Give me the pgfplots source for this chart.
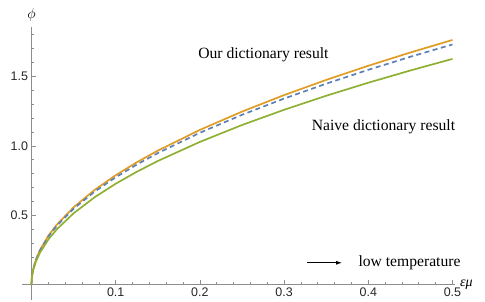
\documentclass[border=0pt]{standalone}
\usepackage{pgfplots}
\pgfplotsset{compat=1.18}
\usetikzlibrary{arrows.meta}
\usepackage{fontspec}
\setmainfont{Liberation Serif}
\newfontfamily\arial{Liberation Sans}
\definecolor{mblue}{rgb}{0.368417,0.506779,0.709798}
\definecolor{morange}{rgb}{0.880722,0.611041,0.142051}
\definecolor{mgreen}{rgb}{0.560181,0.691569,0.194885}
\definecolor{axgray}{RGB}{140,140,140}
\begin{document}
\begin{tikzpicture}
\begin{axis}[
  scale only axis, width=432.8bp, height=273bp,
  xmin=-0.011, xmax=0.503, ymin=-0.11, ymax=1.856,
  axis lines=middle,
  axis line style={draw=axgray, line width=0.7bp, -},
  xtick={0.1,0.2,0.3,0.4,0.5},
  minor xtick={0.02,0.04,0.06,0.08,0.12,0.14,0.16,0.18,0.22,0.24,0.26,0.28,0.32,0.34,0.36,0.38,0.42,0.44,0.46,0.48},
  ytick={0.5,1,1.5},
  minor ytick={0.1,0.2,0.3,0.4,0.6,0.7,0.8,0.9,1.1,1.2,1.3,1.4,1.6,1.7,1.8},
  tick style={draw=axgray, line width=0.6bp},
  major tick length=4.5bp, minor tick length=2.5bp,
  tick align=inside,
  /pgf/number format/assume math mode=true,
  ticklabel style={font=\arial\fontsize{12.5}{14}\selectfont, text=black!85},
  xticklabel style={/pgf/number format/fixed, /pgf/number format/precision=1},
  yticklabel style={/pgf/number format/fixed, /pgf/number format/fixed zerofill, /pgf/number format/precision=1},
  clip=false,
]
\addplot[morange, line width=1.7bp] coordinates {
(0,0) (0.0005,0.0557) (0.001,0.0788) (0.002,0.1115) (0.005,0.1763) (0.01,0.2493)
(0.02,0.3526) (0.03,0.4318) (0.05,0.5575) (0.075,0.6827) (0.1,0.7884) (0.125,0.8814)
(0.15,0.9655) (0.2,1.1149) (0.25,1.2465) (0.3,1.3655) (0.35,1.4749) (0.4,1.5767)
(0.45,1.6724) (0.5,1.7628)};
\addplot[mblue, line width=1.7bp, dash pattern=on 5bp off 3.5bp] coordinates {
(0,0) (0.0005,0.0547) (0.001,0.0774) (0.002,0.1094) (0.005,0.1730) (0.01,0.2447)
(0.02,0.3461) (0.03,0.4238) (0.05,0.5472) (0.075,0.6701) (0.1,0.7738) (0.125,0.8651)
(0.15,0.9477) (0.2,1.0943) (0.25,1.2235) (0.3,1.3403) (0.35,1.4477) (0.4,1.5476)
(0.45,1.6415) (0.5,1.7303)};
\addplot[mgreen, line width=1.7bp] coordinates {
(0,0) (0.0005,0.0514) (0.001,0.0727) (0.002,0.1029) (0.005,0.1626) (0.01,0.2300)
(0.02,0.3253) (0.03,0.3984) (0.05,0.5143) (0.075,0.6299) (0.1,0.7273) (0.125,0.8132)
(0.15,0.8908) (0.2,1.0286) (0.25,1.15) (0.3,1.2598) (0.35,1.3607) (0.4,1.4547)
(0.45,1.5429) (0.5,1.6264)};
\node[font=\fontsize{15.7}{17}\selectfont] at (axis cs:0.2755,1.655) {Our dictionary result};
\node[font=\fontsize{15.7}{17}\selectfont] at (axis cs:0.418,1.137) {Naive dictionary result};
\node[font=\fontsize{15.7}{17}\selectfont] at (axis cs:0.449,0.158) {low temperature};
\draw[-{Latex[length=6bp,width=4bp]}, line width=1bp] (axis cs:0.327,0.158) -- (axis cs:0.369,0.158);
\node[font=\fontsize{14}{16}\selectfont, anchor=south] at (axis cs:0,1.875) {$\phi$};
\node[font=\fontsize{14}{16}\selectfont\itshape, anchor=west] at (axis cs:0.505,0.0) {εμ};
\end{axis}
\pgfresetboundingbox
\useasboundingbox (-22.2bp,-2bp) rectangle (462.8bp,300bp);
\end{tikzpicture}
\end{document}
